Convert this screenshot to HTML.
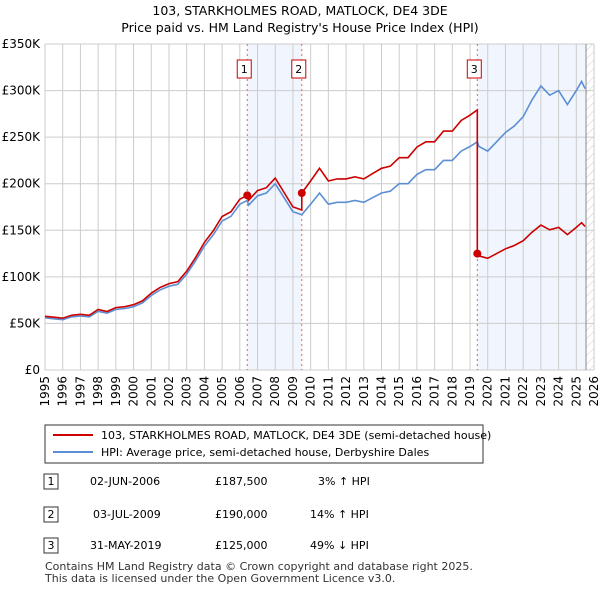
<!DOCTYPE html>
<html><head><meta charset="utf-8"><style>
body{margin:0;background:#fff;font-family:"Liberation Sans","DejaVu Sans",sans-serif;}
svg text{font-family:"DejaVu Sans","Liberation Sans",sans-serif;}
</style></head><body>
<svg id="c" width="600" height="590" viewBox="0 0 600 590" xmlns="http://www.w3.org/2000/svg">
<defs><pattern id="h" width="6" height="6" patternUnits="userSpaceOnUse" patternTransform="rotate(45)"><line x1="0" y1="0" x2="0" y2="6" stroke="#ccc" stroke-width="1"/></pattern></defs>
<text x="300" y="15" text-anchor="middle" font-size="12.5">103, STARKHOLMES ROAD, MATLOCK, DE4 3DE</text>
<text x="300" y="32" text-anchor="middle" font-size="12.5">Price paid vs. HM Land Registry's House Price Index (HPI)</text>
<g id="plot"></g>
<g>
<rect x="45" y="425" width="438" height="38" fill="#fff" stroke="#333" stroke-width="1"/>
<line x1="53" y1="435" x2="93" y2="435" stroke="#cc0000" stroke-width="2"/>
<text x="101" y="439" font-size="11">103, STARKHOLMES ROAD, MATLOCK, DE4 3DE (semi-detached house)</text>
<line x1="53" y1="452" x2="93" y2="452" stroke="#5b8fd4" stroke-width="2"/>
<text x="101" y="456" font-size="11">HPI: Average price, semi-detached house, Derbyshire Dales</text>
</g>
<g font-size="11">
<rect x="44" y="474" width="14" height="15" fill="#fff" stroke="#333"/><text x="51" y="485" text-anchor="middle">1</text>
<text x="90" y="485">02-JUN-2006</text><text x="215" y="485">£187,500</text><text x="318" y="485">3% ↑ HPI</text>
<rect x="44" y="507" width="14" height="15" fill="#fff" stroke="#333"/><text x="51" y="518" text-anchor="middle">2</text>
<text x="93" y="518">03-JUL-2009</text><text x="215" y="518">£190,000</text><text x="310" y="518">14% ↑ HPI</text>
<rect x="44" y="538" width="14" height="15" fill="#fff" stroke="#333"/><text x="51" y="549" text-anchor="middle">3</text>
<text x="90" y="549">31-MAY-2019</text><text x="215" y="549">£125,000</text><text x="310" y="549">49% ↓ HPI</text>
</g>
<text x="45" y="570" font-size="11" fill="#333">Contains HM Land Registry data © Crown copyright and database right 2025.</text>
<text x="45" y="582" font-size="11" fill="#333">This data is licensed under the Open Government Licence v3.0.</text>
</svg>
<script>
const hpiYears=[1995,1995.5,1996,1996.5,1997,1997.5,1998,1998.5,1999,1999.5,2000,2000.5,2001,2001.5,2002,2002.5,2003,2003.5,2004,2004.5,2005,2005.5,2006,2006.42,2006.5,2007,2007.5,2008,2008.5,2009,2009.5,2010,2010.5,2011,2011.5,2012,2012.5,2013,2013.5,2014,2014.5,2015,2015.5,2016,2016.5,2017,2017.5,2018,2018.5,2019,2019.41,2019.5,2020,2020.5,2021,2021.5,2022,2022.5,2023,2023.5,2024,2024.5,2025,2025.3,2025.5];
const hpiValues=[56,55,54,57,58,57,63,61,65,66,68,72,80,86,90,92,103,117,133,145,160,165,178,182,177,187,190,200,185,170,166.7,178,190,178,180,180,182,180,185,190,192,200,200,210,215,215,225,225,235,240,245,240,235,245,255,262,272,290,305,295,300,285,300,310,302];
const saleYears=[2006.42,2009.5,2019.41];
const salePrices=[187.5,190,125];
const saleLabels=["1","2","3"];
const yTicks=[0,50,100,150,200,250,300,350];
const yTickLabels=["£0","£50K","£100K","£150K","£200K","£250K","£300K","£350K"];
const xTicks=[];for(let y=1995;y<=2026;y++)xTicks.push(y);
const X0=45,X1=594,Y0=370,Y1=44;
const x=t=>X0+(t-1995)/(2026-1995)*(X1-X0);
const y=v=>Y0-v/350*(Y0-Y1);
const NS="http://www.w3.org/2000/svg";
const g=document.getElementById('plot');
function mk(tag,attrs,parent){const e=document.createElementNS(NS,tag);for(const k in attrs)e.setAttribute(k,attrs[k]);(parent||g).appendChild(e);return e;}
function hpiAt(t){for(let i=1;i<hpiYears.length;i++){if(t<=hpiYears[i]){const a=hpiYears[i-1],b=hpiYears[i];return hpiValues[i-1]+(hpiValues[i]-hpiValues[i-1])*(t-a)/(b-a);}}return hpiValues[hpiValues.length-1];}
let r=mk('rect',{x:x(saleYears[0]),y:Y1,width:x(saleYears[1])-x(saleYears[0]),height:Y0-Y1,fill:'#eef3fc',opacity:0.8});

r=mk('rect',{x:x(saleYears[2]),y:Y1,width:x(2025.55)-x(saleYears[2]),height:Y0-Y1,fill:'#eef3fc',opacity:0.8});

r=mk('rect',{x:x(2025.55),y:Y1,width:X1-x(2025.55),height:Y0-Y1,fill:'url(#h)'});

xTicks.forEach(t=>{const l=mk('line',{x1:x(t),x2:x(t),y1:Y1,y2:Y0,stroke:'#ccc','stroke-width':1});

const tx=mk('text',{x:0,y:0,'font-size':12,'text-anchor':'end',transform:`translate(${x(t)+4},${Y0+6}) rotate(-90)`});tx.textContent=t;
});
yTicks.forEach((v,i)=>{const l=mk('line',{x1:X0,x2:X1,y1:y(v),y2:y(v),stroke:'#ccc','stroke-width':1});

const tx=mk('text',{x:X0-5,y:y(v)+4,'font-size':12,'text-anchor':'end'});tx.textContent=yTickLabels[i];
});
let ln=mk('line',{x1:x(2025.55),x2:x(2025.55),y1:Y1,y2:Y0,stroke:'#888','stroke-width':1});

saleYears.forEach((t,i)=>{const l=mk('line',{x1:x(t),x2:x(t),y1:Y1,y2:Y0,stroke:'#e06666','stroke-width':1,'stroke-dasharray':'2,3'});

const bx=x(t)-10;const b=mk('rect',{x:bx,y:60,width:14,height:18,fill:'#fff',stroke:'#cc0000'});

const tx=mk('text',{x:bx+7,y:73,'font-size':11,'text-anchor':'middle'});tx.textContent=saleLabels[i];
});
let d=hpiYears.map((t,i)=>(i?'L':'M')+x(t).toFixed(1)+','+y(hpiValues[i]).toFixed(1)).join('');
let p=mk('path',{d:d,fill:'none',stroke:'#5b8fd4','stroke-width':1.6});

let pd='';
hpiYears.forEach((t,i)=>{let k=0;for(let s=0;s<saleYears.length;s++)if(t>=saleYears[s])k=s;
const v=salePrices[k]*hpiValues[i]/hpiAt(saleYears[k]);
if(i>0){for(let s=1;s<saleYears.length;s++){if(hpiYears[i-1]<saleYears[s]&&t>=saleYears[s]){const pv=salePrices[s-1]*hpiAt(saleYears[s])/hpiAt(saleYears[s-1]);pd+='L'+x(saleYears[s]).toFixed(1)+','+y(pv).toFixed(1);pd+='L'+x(saleYears[s]).toFixed(1)+','+y(salePrices[s]).toFixed(1);}}}
pd+=(i?'L':'M')+x(t).toFixed(1)+','+y(v).toFixed(1);});
p=mk('path',{d:pd,fill:'none',stroke:'#cc0000','stroke-width':1.6});

saleYears.forEach((t,i)=>{const c=mk('circle',{cx:x(t),cy:y(salePrices[i]),r:4,fill:'#cc0000'});
});
</script>
</body></html>
